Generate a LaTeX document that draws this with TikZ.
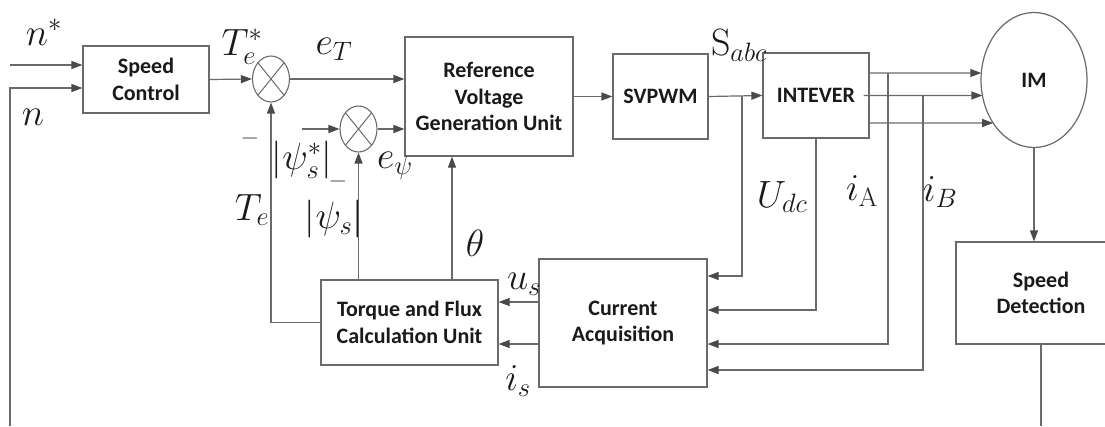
\RequirePackage{fix-cm}
\documentclass[tikz,border=0pt]{standalone}
\usepackage{fontspec}
\newfontfamily\blockfont{Carlito}
\usetikzlibrary{arrows.meta,shapes.geometric,intersections,calc}
\definecolor{line_gray}{HTML}{6A6A6A}
\definecolor{tip_gray}{HTML}{4A4A4A}
\definecolor{text_dark}{HTML}{1A1A1A}

\tikzset{
  block/.style={draw=line_gray, line width=1.2pt, fill=white, align=center,
    inner sep=0pt, text=text_dark,
    font=\blockfont\bfseries\fontsize{22}{26.5}\selectfont},
  sumj/.style={ellipse, draw=line_gray, line width=1.1pt, minimum width=37pt,
    minimum height=46pt, inner sep=0pt,
    path picture={\draw[line_gray, line width=1pt]
      (path picture bounding box.north west) -- (path picture bounding box.south east)
      (path picture bounding box.north east) -- (path picture bounding box.south west);}},
  sig/.style={line_gray, line width=1.2pt,
    -{Triangle[length=11pt,width=8pt,color=tip_gray]}},
  wire/.style={line_gray, line width=1.2pt},
  lbl/.style={inner sep=0pt, text=text_dark, font=\fontsize{38}{40}\selectfont},
  minus/.style={inner sep=0pt, text=tip_gray, font=\fontsize{24}{24}\selectfont}
}

\begin{document}
\begin{tikzpicture}[x=1pt,y=-1pt]
    \useasboundingbox (0,0) rectangle (1105,426);

    % blocks
    \node[block, minimum width=126pt, minimum height=67pt] (SC) at (146,79.5) {Speed\\Control};
    \node[sumj] (s1) at (271,79) {};
    \node[sumj] (s2) at (358.5,129) {};
    \node[block, minimum width=168pt, minimum height=119pt] (RVGU) at (489,96.5)
        {Reference\\Voltage\\Generation Unit};
    \node[block, minimum width=95pt, minimum height=85pt] (SVPWM) at (660.5,96.5) {SVPWM};
    \node[block, minimum width=106pt, minimum height=85pt] (INT) at (816,95.5) {INTEVER};
    \node[block, ellipse, minimum width=106pt, minimum height=135pt] (IM) at (1034,80) {IM};
    \node[block, minimum width=177pt, minimum height=85pt] (TFCU) at (409.5,322.5)
        {Torque and Flux\\Calculation Unit};
    \node[block, minimum width=168pt, minimum height=128pt] (CA) at (623,323)
        {Current\\Acquisition};
    \node[block, minimum width=170pt, minimum height=102pt] (SD) at (1041,293)
        {Speed\\Detection};

    % speed loop
    \coordinate (nref) at (10,65);
    \coordinate (nfb) at (10,426);
    \draw[sig] (nref) -- (SC.west |- nref);
    \draw[sig] (nfb) |- ([yshift=-8.5pt]SC.west);
    \draw[sig] (SC.east) -- (s1.west);
    \draw[sig] (s1.east) -- (RVGU.west |- s1.east);

    \coordinate (psin) at (302,129);
    \draw[sig] (psin) -- (s2.west);
    \draw[sig] (s2.east) -- (RVGU.west |- s2.east);

    % feedback from torque and flux unit
    \draw[sig] (TFCU.west) -| (s1.south);
    \draw[sig] (s2.south |- TFCU.north) -- (s2.south);
    \draw[sig] ([xshift=42.5pt]TFCU.north) -- ([xshift=42.5pt]TFCU.north |- RVGU.south);

    \draw[sig] (RVGU.east) -- (SVPWM.west);
    \draw[sig] (SVPWM.east) -- (INT.west);
    \draw[sig] ($(SVPWM.east)!0.62!(INT.west)$) |- ([yshift=47pt]CA.east);
    \draw[sig] (INT.south) |- ([yshift=13pt]CA.east);

    % three phases into the motor
    \path[name path=IMb] (IM.center) ellipse [x radius=53pt, y radius=67.5pt];
    \foreach \dy/\tip in {22.5/imA, 0/imB, -27.5/imC} {
        \path[name path=ray] ([yshift=\dy pt]INT.center) -- ++(300,0);
        \path[name intersections={of=ray and IMb, by={\tip}, sort by=ray}];
    }
    \draw[sig] ([yshift=22.5pt]INT.east) -- (imA);
    \draw[sig] ([xshift=-6pt]INT.east) -- (imB);
    \draw[sig] ([yshift=-27.5pt]INT.east) -- (imC);

    \coordinate (tapA) at (888,73);
    \coordinate (tapB) at (923,96);
    \draw[sig] (tapA) |- ([yshift=-21pt]CA.east);
    \draw[sig] (tapB) |- ([yshift=-47pt]CA.east);

    \draw[sig] ([yshift=21pt]CA.west) -- ([yshift=21pt]CA.west -| TFCU.east);
    \draw[sig] ([yshift=-21pt]CA.west) -- ([yshift=-21pt]CA.west -| TFCU.east);

    \draw[sig] (IM.south) -- (IM.south |- SD.north);
    \draw[wire] (SD.south) -- (SD.south |- nfb);

    % labels
    \node[lbl] (lnstar) at (44,32) {$n^{*}$};
    \node[lbl] (ln) at (33,117) {$n$};
    \node[lbl] (lTstar) at (242,47) {$T_e^{*}$};
    \node[lbl] (leT) at (334,49) {$e_T$};
    \node[minus] (m1) at (250,138) {$-$};
    \node[lbl] (lpsistar) at (302,160) {$\left|\psi_s^{*}\right|$};
    \node[minus] (m2) at (338,181) {$-$};
    \node[lbl] (lepsi) at (395,166) {$e_\psi$};
    \node[lbl] (lTe) at (252,210) {$T_e$};
    \node[lbl] (lpsi) at (334,219) {$\left|\psi_s\right|$};
    \node[lbl] (ltheta) at (475,243) {$\theta$};
    \node[lbl] (lus) at (524,284) {$u_s$};
    \node[lbl] (lis) at (518,381) {$i_s$};
    \node[lbl] (lSabc) at (739,45) {$\mathrm{S}_{abc}$};
    \node[lbl] (lUdc) at (782,197) {$U_{dc}$};
    \node[lbl] (liA) at (862,191) {$i_{\mathrm{A}}$};
    \node[lbl] (liB) at (940,192) {$i_B$};

\end{tikzpicture}
\end{document}
